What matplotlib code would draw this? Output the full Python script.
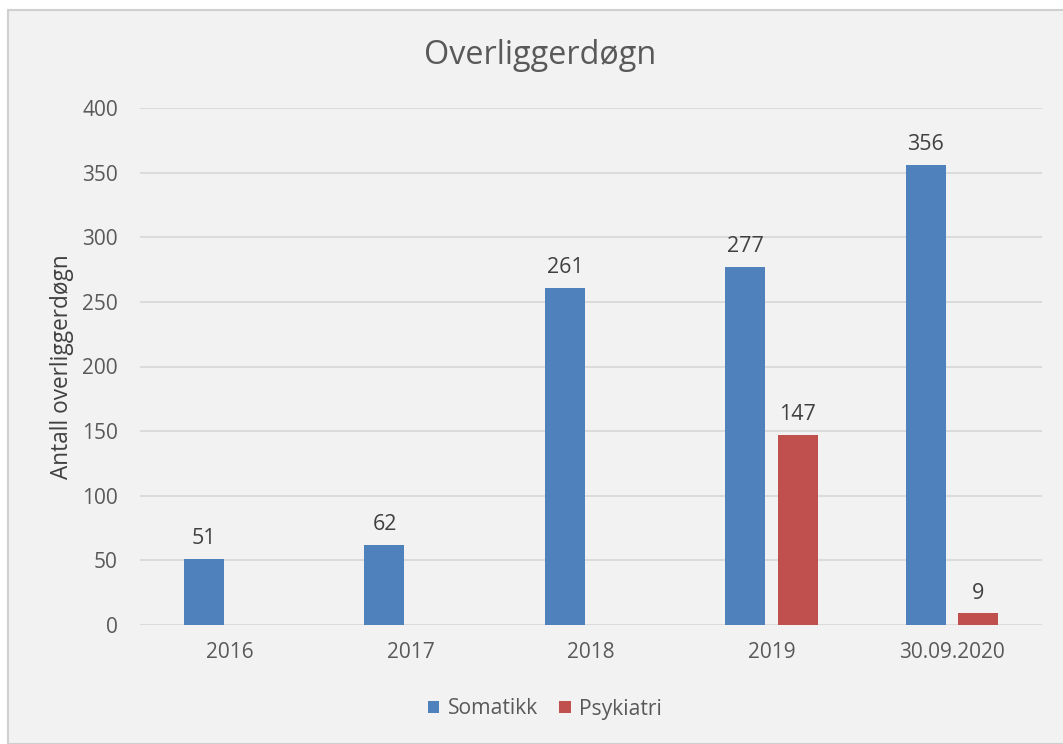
"""
Overliggerdøgn bar chart
"""

import numpy as np
from matplotlib import pyplot as plt
from matplotlib.patches import Rectangle

categories = ['2016', '2017', '2018', '2019', '30.09.2020']
somatikk = [51, 62, 261, 277, 356]
psykiatri = [None, None, None, 147, 9]
yticks = [0, 50, 100, 150, 200, 250, 300, 350, 400]

BLUE = '#4f81bd'
RED = '#c0504d'
TEXT = '#595959'

plt.rcParams['font.family'] = ['Open Sans', 'DejaVu Sans']

def draw_chart():
	fig = plt.figure(figsize=(10.63, 7.44), dpi=100, facecolor='white')
	# outer chart frame, kept behind the axes
	fig.patches.append(Rectangle((8 / 1063, 0), 1.2, (744 - 10) / 744,
		transform=fig.transFigure, fc='#f2f2f2', ec='#d0d0d0', lw=1.5, zorder=-10))
	ax = fig.add_axes([140 / 1063, 1 - 625 / 744, 902 / 1063, 517 / 744])
	ax.set_facecolor('none')

	x = np.arange(len(categories))
	w = 0.222
	off = 0.145
	soma = np.array(somatikk, dtype=float)
	psyk = np.array([np.nan if v is None else v for v in psykiatri])
	b1 = ax.bar(x - off, soma, w, color=BLUE, label='Somatikk', zorder=3)
	b2 = ax.bar(x + off, psyk, w, color=RED, label='Psykiatri', zorder=3)

	for bars, vals in ((b1, soma), (b2, psyk)):
		for rect, v in zip(bars, vals):
			if np.isnan(v):
				continue
			ax.annotate(f'{int(v)}', (rect.get_x() + rect.get_width() / 2, v),
				xytext=(0, 7), textcoords='offset points', ha='center', va='bottom',
				fontsize=15.5, color='#404040')

	ax.set_xlim(-0.5, len(categories) - 0.5)
	ax.set_ylim(0, 400)
	ax.set_yticks(yticks)
	ax.set_xticks(x)
	ax.set_xticklabels(categories)
	ax.tick_params(axis='both', length=0, labelsize=15, labelcolor=TEXT)
	ax.tick_params(axis='x', pad=12)
	ax.tick_params(axis='y', pad=16)
	ax.grid(axis='y', color='#d9d9d9', lw=1.3, zorder=0)
	for s in ax.spines.values():
		s.set_visible(False)

	ax.set_ylabel('Antall overliggerdøgn', fontsize=16.3, color='#404040', labelpad=6)
	fig.text(540 / 1063, 1 - 55 / 744, 'Overliggerdøgn', ha='center', va='center',
		fontsize=23.3, color=TEXT)
	ax.legend(loc='center', bbox_to_anchor=(545 / 1063, 1 - 709 / 744),
		bbox_transform=fig.transFigure, ncol=2, frameon=False, fontsize=15.2,
		handlelength=0.55, handleheight=0.55, handletextpad=0.4, columnspacing=1.0,
		labelcolor=TEXT)

	fig.savefig('out.png', dpi=100, facecolor=fig.get_facecolor())

if __name__ == '__main__':
	draw_chart()
